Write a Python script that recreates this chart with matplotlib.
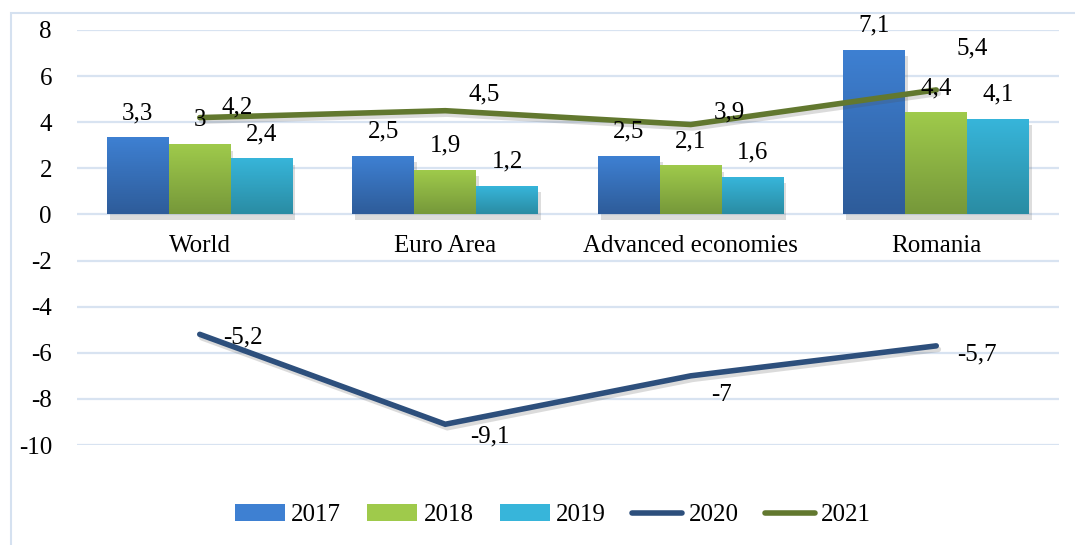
import numpy as np
import matplotlib
matplotlib.use("Agg")
import matplotlib.pyplot as plt
import matplotlib.patheffects as pe
from matplotlib.colors import LinearSegmentedColormap
from matplotlib.patches import Rectangle, Patch
from matplotlib.lines import Line2D

categories = ["World", "Euro Area", "Advanced economies", "Romania"]
bar_years = ["2017", "2018", "2019"]
v2017 = [3.3, 2.5, 2.5, 7.1]
v2018 = [3.0, 1.9, 2.1, 4.4]
v2019 = [2.4, 1.2, 1.6, 4.1]
v2020 = [-5.2, -9.1, -7.0, -5.7]
v2021 = [4.2, 4.5, 3.9, 5.4]
yticks = [8, 6, 4, 2, 0, -2, -4, -6, -8, -10]

# (top, bottom) colours of the bar gradients
bar_colors = [("#3e80d2", "#2e5c9a"), ("#9fca4b", "#76983a"), ("#37b5da", "#2a8ca3")]
c2020 = "#2d4f7c"
c2021 = "#62782f"

# label offsets (points) for the line labels
off2020 = [(31, -2), (32, -9), (22, -14), (29, -6)]
off2021 = [(27, 7), (28, 12), (28, 9), (26, 30)]


def fmt(v):
    s = f"{v:g}"
    return s.replace(".", ",")


plt.rcParams["font.family"] = ["Liberation Serif", "DejaVu Serif"]
fig = plt.figure(figsize=(10.75, 5.45), dpi=100)
ax = fig.add_axes([77 / 1075, 1 - 445 / 545, (1059 - 77) / 1075, (445 - 30) / 545])

# outer chart frame
fig.patches.append(Rectangle((11 / 1075, -0.05), 1.1, 1 - 13 / 545 + 0.05,
                             transform=fig.transFigure, fill=False,
                             edgecolor="#d5e1f0", lw=1.5, zorder=0))

x = np.arange(len(categories))
w = 0.252
series = [v2017, v2018, v2019]
for i, vals in enumerate(series):
    top, bot = bar_colors[i]
    cmap = LinearSegmentedColormap.from_list(f"g{i}", [bot, top])
    xs = x + (i - 1) * w
    bars = ax.bar(xs, vals, w, color=top, zorder=2, linewidth=0)
    for b in bars:
        b.set_path_effects([pe.SimplePatchShadow(offset=(2, -4), shadow_rgbFace="0.4", alpha=0.22),
                            pe.Normal()])
        x0, h = b.get_x(), b.get_height()
        grad = np.linspace(0, 1, 100).reshape(-1, 1)
        ax.imshow(grad, extent=[x0, x0 + w, 0, h], origin="lower", cmap=cmap,
                  aspect="auto", zorder=3)
    for xi, v in zip(xs, vals):
        ax.annotate(fmt(v), (xi, v), xytext=(0, 18), textcoords="offset points",
                    ha="center", va="center", fontsize=18, zorder=6)

shadow = [pe.SimpleLineShadow(offset=(1.5, -2.5), shadow_color="0.3", alpha=0.2), pe.Normal()]
ax.plot(x, v2020, color=c2020, lw=4, solid_capstyle="round", solid_joinstyle="miter",
        zorder=4, path_effects=shadow)
ax.plot(x, v2021, color=c2021, lw=4, solid_capstyle="round", solid_joinstyle="miter",
        zorder=4, path_effects=shadow)
for xi, v, o in zip(x, v2020, off2020):
    ax.annotate(fmt(v), (xi, v), xytext=o, textcoords="offset points",
                ha="center", va="center", fontsize=18, zorder=6)
for xi, v, o in zip(x, v2021, off2021):
    ax.annotate(fmt(v), (xi, v), xytext=o, textcoords="offset points",
                ha="center", va="center", fontsize=18, zorder=6)

# category labels sit just below the zero line
for xi, c in zip(x, categories):
    ax.annotate(c, (xi, 0), xytext=(0, -23), textcoords="offset points",
                ha="center", va="center", fontsize=18)

ax.set_xlim(-0.5, len(categories) - 0.5)
ax.set_ylim(-10, 8)
ax.set_xticks([])
ax.set_yticks(yticks)
ax.set_yticklabels([str(t) for t in yticks], fontsize=18)
ax.tick_params(axis="y", length=0, pad=18)
ax.grid(axis="y", color="#d8e3f1", lw=1.6, zorder=0)
ax.set_axisbelow(True)
for s in ax.spines.values():
    s.set_visible(False)

handles = [Patch(facecolor=bar_colors[i][0], edgecolor=bar_colors[i][1], lw=0) for i in range(3)]
handles += [Line2D([], [], color=c2020, lw=4, solid_capstyle="round"),
            Line2D([], [], color=c2021, lw=4, solid_capstyle="round")]
labels = bar_years + ["2020", "2021"]
fig.legend(handles, labels, loc="center", bbox_to_anchor=(553 / 1075, 1 - 515 / 545), ncol=5,
           frameon=False, fontsize=18, handlelength=2.0, handleheight=0.7,
           handletextpad=0.25, columnspacing=1.05)

fig.savefig("out.png", dpi=100)
